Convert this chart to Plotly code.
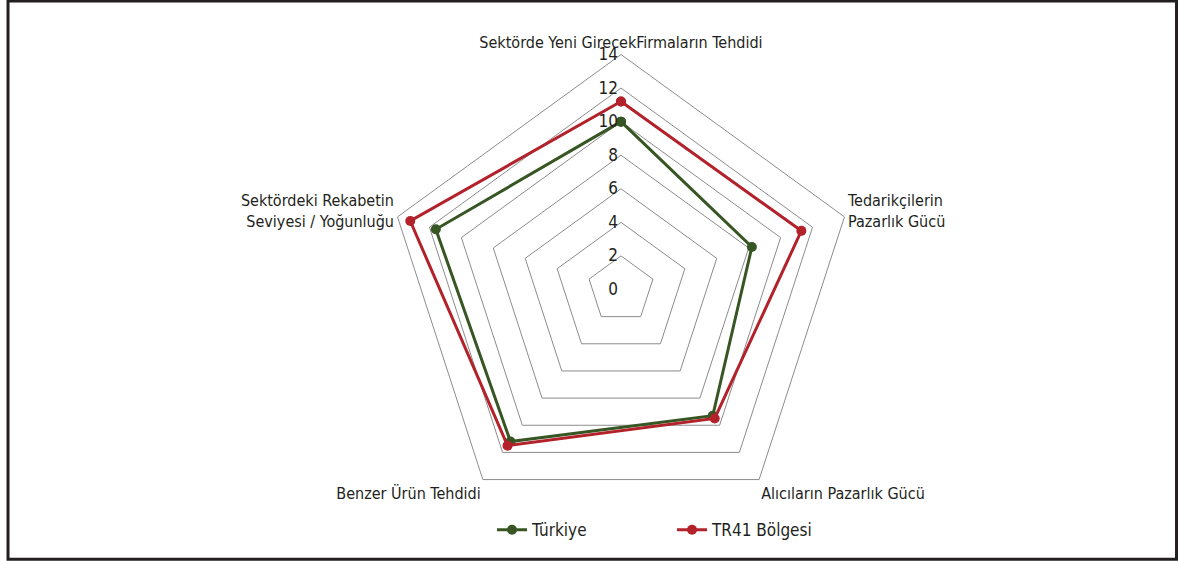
import plotly.graph_objects as go

# Five-forces categories (clockwise from the top)
categories = [
    "Sektörde Yeni GirecekFirmaların Tehdidi",
    "Tedarikçilerin<br>Pazarlık Gücü",
    "Alıcıların Pazarlık Gücü",
    "Benzer Ürün Tehdidi",
    "Sektördeki Rekabetin<br>Seviyesi / Yoğunluğu",
]
turkiye = [10.0, 8.2, 9.3, 11.2, 11.6]
tr41 = [11.2, 11.3, 9.5, 11.5, 13.2]
radial_ticks = [0, 2, 4, 6, 8, 10, 12, 14]

GREEN = "#375623"
RED = "#B3222A"
TEXT = "#231F20"
GRID = "#8C8C8C"
FONT = "Liberation Sans Narrow, DejaVu Sans Condensed, Roboto, sans-serif"


def closed(vals):
    return vals + vals[:1]


fig = go.Figure()
for name, vals, color in [("Türkiye", turkiye, GREEN), ("TR41 Bölgesi", tr41, RED)]:
    fig.add_trace(go.Scatterpolar(
        r=closed(vals),
        theta=closed(categories),
        name=name,
        mode="lines+markers",
        line=dict(color=color, width=3),
        marker=dict(color=color, size=10),
    ))

fig.update_layout(
    width=1179,
    height=561,
    margin=dict(l=0, r=0, t=0, b=0),
    paper_bgcolor="white",
    plot_bgcolor="white",
    font=dict(family=FONT, size=16, color=TEXT),
    polar=dict(
        domain=dict(x=[0.3274, 0.7260], y=[0.0651, 0.9029]),
        gridshape="linear",
        bgcolor="white",
        radialaxis=dict(
            range=[0, 14],
            tickvals=radial_ticks,
            angle=90,
            tickangle=90,
            side="counterclockwise",
            showline=False,
            ticks="",
            showgrid=True,
            gridcolor=GRID,
            gridwidth=1,
            tickfont=dict(size=17, color=TEXT),
        ),
        angularaxis=dict(
            direction="clockwise",
            rotation=90,
            showgrid=False,
            showline=True,
            linecolor=GRID,
            linewidth=1,
            ticks="",
            tickfont=dict(size=16, color=TEXT),
        ),
    ),
    legend=dict(
        orientation="h",
        x=0.57,
        xanchor="center",
        y=0.055,
        yanchor="middle",
        font=dict(size=17, color=TEXT),
        entrywidth=135,
        entrywidthmode="pixels",
    ),
    shapes=[dict(
        type="rect", xref="paper", yref="paper",
        x0=0.0068, x1=0.9979, y0=0.003, y1=0.998,
        line=dict(color=TEXT, width=3),
    )],
)

fig.write_html("out.html")
